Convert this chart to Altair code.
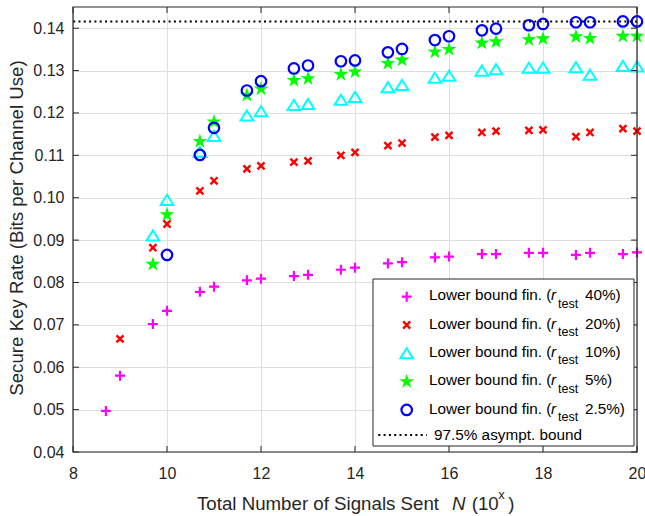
import altair as alt
import pandas as pd

# ---------------- data ----------------
x_all = [8.7, 9, 9.7, 10, 10.7, 11, 11.7, 12, 12.7, 13, 13.7, 14,
         14.7, 15, 15.7, 16, 16.7, 17, 17.7, 18, 18.7, 19, 19.7, 20]

r40 = [0.0497, 0.0580, 0.0702, 0.0733, 0.0778, 0.0790, 0.0805, 0.0809,
       0.0815, 0.0818, 0.0830, 0.0835, 0.0845, 0.0848, 0.0859, 0.0861,
       0.0867, 0.0867, 0.0870, 0.0870, 0.0865, 0.0870, 0.0867, 0.0871]
x20 = x_all[1:]
r20 = [0.0667, 0.0882, 0.0938, 0.1016, 0.1040, 0.1068, 0.1075, 0.1084,
       0.1087, 0.1100, 0.1107, 0.1123, 0.1129, 0.1143, 0.1147, 0.1154,
       0.1157, 0.1159, 0.1160, 0.1144, 0.1154, 0.1163, 0.1157]
x10 = x_all[2:]
r10 = [0.0911, 0.0995, 0.1108, 0.1146, 0.1194, 0.1204, 0.1219, 0.1221,
       0.1231, 0.1238, 0.1261, 0.1266, 0.1283, 0.1288, 0.1300, 0.1303,
       0.1307, 0.1307, 0.1308, 0.1290, 0.1311, 0.1310]
x5 = x_all[2:]
r5 = [0.0843, 0.0960, 0.1133, 0.1179, 0.1242, 0.1257, 0.1277, 0.1281,
      0.1291, 0.1297, 0.1317, 0.1325, 0.1344, 0.1350, 0.1365, 0.1368,
      0.1373, 0.1375, 0.1380, 0.1376, 0.1381, 0.1381]
x25 = x_all[3:]
r25 = [0.0865, 0.1101, 0.1165, 0.1253, 0.1275, 0.1305, 0.1312, 0.1322,
       0.1324, 0.1343, 0.1351, 0.1372, 0.1381, 0.1395, 0.1399, 0.1407,
       0.1410, 0.1414, 0.1414, 0.1416, 0.1416]
bound = 0.1416

x_ticks = [8, 10, 12, 14, 16, 18, 20]
y_ticks = [0.04, 0.05, 0.06, 0.07, 0.08, 0.09, 0.10, 0.11, 0.12, 0.13, 0.14]

legend_pcts = ["40%)", "20%)", "10%)", "5%)", "2.5%)"]
legend_main = "Lower bound fin. ("
legend_bound = "97.5% asympt. bound"
y_title = "Secure Key Rate (Bits per Channel Use)"
x_title_main = "Total Number of Signals Sent"

# ---------------- styles ----------------
W, H = 564, 445
FONT = "Liberation Sans"
AX = "#262626"
GRID = "#dfdfdf"

PLUS = "M-1,0L1,0M0,-1L0,1"
XMARK = "M-1,-1L1,1M-1,1L1,-1"
TRI = "M0,-0.8L1,0.8L-1,0.8Z"
STAR = ("M0,-1L0.2245,-0.309L0.9511,-0.309L0.3633,0.118L0.5878,0.809L0,0.382"
        "L-0.5878,0.809L-0.3633,0.118L-0.9511,-0.309L-0.2245,-0.309Z")

styles = [
    dict(shape=PLUS, color="#ff00ff", size=100, filled=False, strokeWidth=2.2),
    dict(shape=XMARK, color="#ff0000", size=50, filled=False, strokeWidth=2.4),
    dict(shape=TRI, color="#00ffff", size=160, filled=False, strokeWidth=2),
    dict(shape=STAR, color="#00ff00", size=245, filled=True, strokeWidth=1),
    dict(shape="circle", color="#0000ff", size=110, filled=False, strokeWidth=2.2),
]
series = [(x_all, r40), (x20, r20), (x10, r10), (x5, r5), (x25, r25)]

x_scale = alt.Scale(domain=[8, 20], nice=False, zero=False)
y_scale = alt.Scale(domain=[0.04, 0.145], nice=False, zero=False)
x_axis = alt.Axis(values=x_ticks, title="", grid=True, gridColor=GRID, gridWidth=1,
                  ticks=False, tickSize=0, domain=False, labelFont=FONT,
                  labelFontSize=16, labelColor=AX, labelPadding=13,
                  labelFlush=False, labelOverlap=False)
y_axis = alt.Axis(values=y_ticks, format=".2f", title="", grid=True, gridColor=GRID,
                  gridWidth=1, ticks=False, tickSize=0, domain=False, labelFont=FONT,
                  labelFontSize=16, labelColor=AX, labelPadding=9,
                  labelOverlap=False)

one = pd.DataFrame({"a": [0]})
layers = []

# data series
for (xs, ys), st in zip(series, styles):
    df = pd.DataFrame({"x": xs, "v": ys})
    layers.append(
        alt.Chart(df).mark_point(opacity=1, **st).encode(
            x=alt.X("x:Q", scale=x_scale, axis=x_axis),
            y=alt.Y("v:Q", scale=y_scale, axis=y_axis),
        )
    )

# asymptotic bound
layers.append(
    alt.Chart(pd.DataFrame({"b": [bound]})).mark_rule(
        color="black", strokeWidth=2, strokeDash=[2, 3.3]
    ).encode(y=alt.Y("b:Q", scale=y_scale, axis=y_axis))
)

# inward ticks
xt = pd.DataFrame({"t": x_ticks})
yt = pd.DataFrame({"t": y_ticks})
for (a, b) in [(H, H - 6), (0, 6)]:
    layers.append(
        alt.Chart(xt).mark_rule(color=AX, strokeWidth=1).encode(
            x=alt.X("t:Q", scale=x_scale, axis=x_axis),
            y=alt.value(a), y2=alt.value(b))
    )
for (a, b) in [(0, 6), (W - 6, W)]:
    layers.append(
        alt.Chart(yt).mark_rule(color=AX, strokeWidth=1).encode(
            y=alt.Y("t:Q", scale=y_scale, axis=y_axis),
            x=alt.value(a), x2=alt.value(b))
    )

# frame
layers.append(
    alt.Chart(one).mark_rect(fill="white", fillOpacity=0, stroke=AX, strokeWidth=1.2).encode(
        x=alt.value(0), x2=alt.value(W), y=alt.value(0), y2=alt.value(H))
)

# legend
LX0, LX1, LY0, LY1 = 300, 561, 272, 439
layers.append(
    alt.Chart(one).mark_rect(fill="white", stroke=AX, strokeWidth=1).encode(
        x=alt.value(LX0), x2=alt.value(LX1), y=alt.value(LY0), y2=alt.value(LY1))
)
SYM_X = 333.7
ROW0 = 289.7
DY = 28.3
LF = 15.3
for i, (st, pct) in enumerate(zip(styles, legend_pcts)):
    yc = ROW0 + i * DY
    base = yc + 3.6
    layers.append(
        alt.Chart(one).mark_point(opacity=1, **st).encode(
            x=alt.value(SYM_X), y=alt.value(yc))
    )
    layers.append(
        alt.Chart(one).mark_text(text=legend_main, align="left", baseline="alphabetic",
                                 font=FONT, fontSize=LF, color="black").encode(
            x=alt.value(356), y=alt.value(base))
    )
    layers.append(
        alt.Chart(one).mark_text(text="r", align="left", baseline="alphabetic",
                                 font=FONT, fontSize=LF, fontStyle="italic",
                                 color="black").encode(
            x=alt.value(478), y=alt.value(base))
    )
    layers.append(
        alt.Chart(one).mark_text(text="test", align="left", baseline="alphabetic",
                                 font=FONT, fontSize=12.5, color="black").encode(
            x=alt.value(485), y=alt.value(base + 7.3))
    )
    layers.append(
        alt.Chart(one).mark_text(text=pct, align="left", baseline="alphabetic",
                                 font=FONT, fontSize=LF, color="black").encode(
            x=alt.value(512), y=alt.value(base))
    )
layers.append(
    alt.Chart(one).mark_rule(color="black", strokeWidth=2, strokeDash=[2, 3.3]).encode(
        x=alt.value(305.3), x2=alt.value(353.7), y=alt.value(428))
)
layers.append(
    alt.Chart(one).mark_text(text=legend_bound, align="left", baseline="alphabetic",
                             font=FONT, fontSize=LF, color="black").encode(
        x=alt.value(361), y=alt.value(433))
)

# axis titles
TF = 18.7
layers.append(
    alt.Chart(one).mark_text(text=y_title, align="center", baseline="alphabetic",
                             angle=270, font=FONT, fontSize=TF, color=AX).encode(
        x=alt.value(-50), y=alt.value(221))
)
layers.append(
    alt.Chart(one).mark_text(text=x_title_main, align="left", baseline="alphabetic",
                             font=FONT, fontSize=TF, color=AX).encode(
        x=alt.value(124), y=alt.value(503))
)
layers.append(
    alt.Chart(one).mark_text(text="N", align="left", baseline="alphabetic",
                             font=FONT, fontSize=TF, fontStyle="italic", color=AX).encode(
        x=alt.value(379), y=alt.value(503))
)
layers.append(
    alt.Chart(one).mark_text(text="(10", align="left", baseline="alphabetic",
                             font=FONT, fontSize=TF, color=AX).encode(
        x=alt.value(398.7), y=alt.value(503))
)
layers.append(
    alt.Chart(one).mark_text(text="x", align="left", baseline="alphabetic",
                             font=FONT, fontSize=13, color=AX).encode(
        x=alt.value(425.3), y=alt.value(492))
)
layers.append(
    alt.Chart(one).mark_text(text=")", align="left", baseline="alphabetic",
                             font=FONT, fontSize=TF, color=AX).encode(
        x=alt.value(435.3), y=alt.value(503))
)

chart = alt.layer(*layers).properties(
    width=W, height=H,
    padding={"left": 73, "top": 7, "right": 8, "bottom": 64},
    autosize=alt.AutoSizeParams(type="none"),
    background="white",
).configure(font=FONT).configure_view(strokeWidth=0)

chart.save("out.html", embed_options={"renderer": "svg", "actions": False})
